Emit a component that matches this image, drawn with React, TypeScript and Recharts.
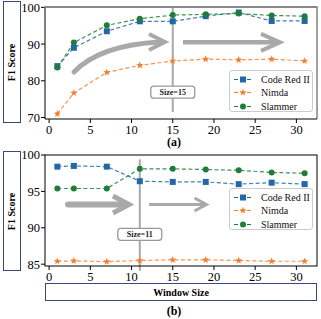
import React from "react";
import { LineChart, Line, XAxis, YAxis, ReferenceLine, ReferenceDot } from "recharts";

// window sizes on the x axis
const windowSizes = [1, 3, 7, 11, 15, 19, 23, 27, 31];
const xTicks = [0, 5, 10, 15, 20, 25, 30];

// (a) F1 score vs window size
const codeRedA = [84.0, 89.0, 93.5, 96.2, 96.2, 97.6, 98.6, 96.3, 96.3];
const nimdaA = [71.0, 76.7, 82.3, 84.2, 85.4, 85.9, 85.7, 85.9, 85.4];
const slammerA = [83.6, 90.4, 95.1, 96.9, 97.9, 98.1, 98.3, 97.8, 97.6];
const yTicksA = [70, 80, 90, 100];

// (b)
const codeRedB = [98.4, 98.5, 98.4, 96.4, 96.3, 96.3, 96.0, 96.2, 96.0];
const nimdaB = [85.4, 85.45, 85.35, 85.5, 85.6, 85.6, 85.5, 85.4, 85.4];
const slammerB = [95.4, 95.4, 95.4, 98.1, 98.1, 98.0, 97.9, 97.6, 97.5];
const yTicksB = [85, 90, 95, 100];

const seriesNames = ["Code Red II", "Nimda", "Slammer"];

const BLUE = "#2268a6";
const ORANGE = "#f47f30";
const GREEN = "#1f7d38";
const GRAY = "#a9a9a9";
const FONT = "'Liberation Serif', 'Times New Roman', serif";

const buildRows = (cr: number[], ni: number[], sl: number[]) =>
  windowSizes.map((w, i) => ({ w, codeRed: cr[i], nimda: ni[i], slammer: sl[i] }));

const rowsA = buildRows(codeRedA, nimdaA, slammerA);
const rowsB = buildRows(codeRedB, nimdaB, slammerB);

const Square = (p: any) =>
  p.cx == null ? null : (
    <rect x={p.cx - 3} y={p.cy - 3} width={6} height={6} fill={BLUE} />
  );
const Dot = (p: any) =>
  p.cx == null ? null : <circle cx={p.cx} cy={p.cy} r={3} fill={GREEN} />;

function starPoints(cx: number, cy: number, ro: number, ri: number) {
  const pts: string[] = [];
  for (let i = 0; i < 10; i++) {
    const r = i % 2 === 0 ? ro : ri;
    const a = -Math.PI / 2 + (i * Math.PI) / 5;
    pts.push(`${cx + r * Math.cos(a)},${cy + r * Math.sin(a)}`);
  }
  return pts.join(" ");
}
const Star = (p: any) =>
  p.cx == null ? null : <polygon points={starPoints(p.cx, p.cy, 3.8, 1.6)} fill={ORANGE} />;

const SizeBox = (label: string, w: number) => (p: any) =>
  (
    <g>
      <rect x={p.cx - w / 2} y={p.cy - 6} width={w} height={12} rx={3} fill="#fff" stroke="#999" strokeWidth={1.3} />
      <text x={p.cx} y={p.cy + 3} textAnchor="middle" fontSize={8} fontWeight="bold" fontFamily={FONT} fill="#222">
        {label}
      </text>
    </g>
  );

const tickStyle = { fontSize: 12.5, fill: "#000", fontFamily: FONT };

function Panel({ rows, domain, yTicks, top, height, vx, vFrom, vTo, boxY, boxLabel }: any) {
  return (
    <div style={{ position: "absolute", left: 0, top }}>
      <LineChart width={321} height={height} data={rows} margin={{ top: 7, right: 4, bottom: 0, left: 0 }}>
        <XAxis
          dataKey="w"
          type="number"
          domain={[-0.5, 32.5]}
          ticks={xTicks}
          axisLine={false}
          tickLine={{ stroke: "#000" }}
          tickSize={4}
          height={21}
          tick={tickStyle}
          interval={0}
        />
        <YAxis
          type="number"
          domain={domain}
          ticks={yTicks}
          axisLine={false}
          tickLine={{ stroke: "#000" }}
          tickSize={4}
          tickMargin={1}
          width={45}
          tick={tickStyle}
          interval={0}
          allowDataOverflow
        />
        <ReferenceLine
          segment={[{ x: vx, y: vFrom }, { x: vx, y: vTo }]}
          stroke={GRAY}
          strokeWidth={2}
          ifOverflow="visible"
        />
        <Line dataKey="codeRed" stroke={BLUE} strokeWidth={1.2} strokeDasharray="4 2.5" strokeOpacity={0.85} dot={<Square />} isAnimationActive={false} />
        <Line dataKey="nimda" stroke={ORANGE} strokeWidth={1.2} strokeDasharray="4 2.5" strokeOpacity={0.85} dot={<Star />} isAnimationActive={false} />
        <Line dataKey="slammer" stroke={GREEN} strokeWidth={1.2} strokeDasharray="4 2.5" strokeOpacity={0.85} dot={<Dot />} isAnimationActive={false} />
        <ReferenceDot x={vx} y={boxY} shape={SizeBox(boxLabel, 44)} />
      </LineChart>
    </div>
  );
}

function LegendBox({ top }: { top: number }) {
  const markers = [
    (x: number, y: number) => <rect x={x - 3} y={y - 3} width={6} height={6} fill={BLUE} />,
    (x: number, y: number) => <polygon points={starPoints(x, y, 3.8, 1.6)} fill={ORANGE} />,
    (x: number, y: number) => <circle cx={x} cy={y} r={3} fill={GREEN} />,
  ];
  const colors = [BLUE, ORANGE, GREEN];
  return (
    <div
      style={{
        position: "absolute",
        left: 229,
        top,
        width: 84,
        height: 42,
        border: "1px solid #ccc",
        borderRadius: 3,
        background: "rgba(255,255,255,0.85)",
        boxSizing: "border-box",
      }}
    >
      {seriesNames.map((n, i) => (
        <div key={n} style={{ position: "absolute", left: 3, top: 2 + i * 13.3, height: 13, display: "flex", alignItems: "center", whiteSpace: "nowrap" }}>
          <svg width={22} height={13}>
            <line x1={1} x2={18} y1={6.5} y2={6.5} stroke={colors[i]} strokeWidth={1.2} strokeDasharray="4 2.5" />
            {markers[i](10, 6.5)}
          </svg>
          <span style={{ fontFamily: FONT, fontSize: 10, marginLeft: 6, lineHeight: "13px", color: "#111", whiteSpace: "nowrap" }}>{n}</span>
        </div>
      ))}
    </div>
  );
}

const boxStyle = (left: number, top: number, w: number, h: number): React.CSSProperties => ({
  position: "absolute",
  left,
  top,
  width: w,
  height: h,
  border: "1.3px solid #3c4b76",
  boxSizing: "border-box",
  display: "flex",
  alignItems: "center",
  justifyContent: "center",
  background: "#fff",
});

const labelText: React.CSSProperties = {
  fontFamily: FONT,
  fontWeight: "bold",
  fontSize: 10,
  whiteSpace: "nowrap",
  color: "#000",
};

function Head({ x, y, dx, dy, w }: { x: number; y: number; dx: number; dy: number; w: number }) {
  return (
    <polyline
      points={`${x - dx},${y - dy} ${x},${y} ${x - dx},${y + dy}`}
      fill="none"
      stroke={GRAY}
      strokeWidth={w}
      strokeLinejoin="miter"
    />
  );
}

export default function App() {
  return (
    <div style={{ position: "absolute", left: 0, top: 0, width: 321, height: 319, background: "#fff", overflow: "hidden" }}>
      {/* y labels */}
      <div style={boxStyle(3, 1, 18, 122)}>
        <span style={{ ...labelText, transform: "rotate(-90deg)" }}>F1 Score</span>
      </div>
      <div style={boxStyle(3, 151, 18, 120)}>
        <span style={{ ...labelText, transform: "rotate(-90deg)" }}>F1 Score</span>
      </div>

      <Panel rows={rowsA} domain={[69.6, 100.1]} yTicks={yTicksA} top={0} height={140} vx={15} vFrom={100.1} vTo={71.5} boxY={76.9} boxLabel="Size=15" />
      <Panel rows={rowsB} domain={[84.75, 100]} yTicks={yTicksB} top={148} height={139} vx={11} vFrom={99.4} vTo={84.1} boxY={89.1} boxLabel="Size=11" />

      <svg width={321} height={319} style={{ position: "absolute", left: 0, top: 0, pointerEvents: "none" }}>
        {/* frames */}
        <line x1={45} x2={45} y1={7} y2={119} stroke="#000" strokeWidth={1} />
        <line x1={45} x2={317} y1={119} y2={119} stroke="#000" strokeWidth={1} />
        <line x1={317} x2={317} y1={7} y2={119} stroke="#444" strokeWidth={1} />
        <line x1={44.5} x2={317.5} y1={7} y2={7} stroke="#888" strokeWidth={2} />
        <rect x={45} y={155} width={272} height={111} fill="none" stroke="#000" strokeWidth={1} />

        {/* (a) arrows */}
        <path d="M74,72 Q100,45 160,42" fill="none" stroke={GRAY} strokeWidth={5} strokeLinecap="round" />
        <Head x={165} y={42} dx={16} dy={8} w={4} />
        <line x1={183} x2={277} y1={42.3} y2={42.3} stroke={GRAY} strokeWidth={4.5} />
        <Head x={280} y={42.3} dx={19} dy={8.5} w={4} />

        {/* (b) arrows */}
        <line x1={68} x2={126} y1={204.5} y2={204.5} stroke={GRAY} strokeWidth={6} strokeLinecap="round" />
        <Head x={129} y={204.5} dx={16} dy={8.5} w={5} />
        <line x1={149} x2={205} y1={204.5} y2={204.5} stroke={GRAY} strokeWidth={3} />
        <Head x={206.5} y={204.5} dx={12} dy={6.5} w={3} />
      </svg>

      <LegendBox top={70} />
      <LegendBox top={188} />

      <div style={{ position: "absolute", left: 160, top: 136, width: 28, textAlign: "center", fontFamily: FONT, fontWeight: "bold", fontSize: 12, lineHeight: "12px" }}>
        (a)
      </div>
      <div style={boxStyle(45, 283, 272, 18)}>
        <span style={labelText}>Window Size</span>
      </div>
      <div style={{ position: "absolute", left: 160, top: 305, width: 28, textAlign: "center", fontFamily: FONT, fontWeight: "bold", fontSize: 12, lineHeight: "12px" }}>
        (b)
      </div>
    </div>
  );
}
